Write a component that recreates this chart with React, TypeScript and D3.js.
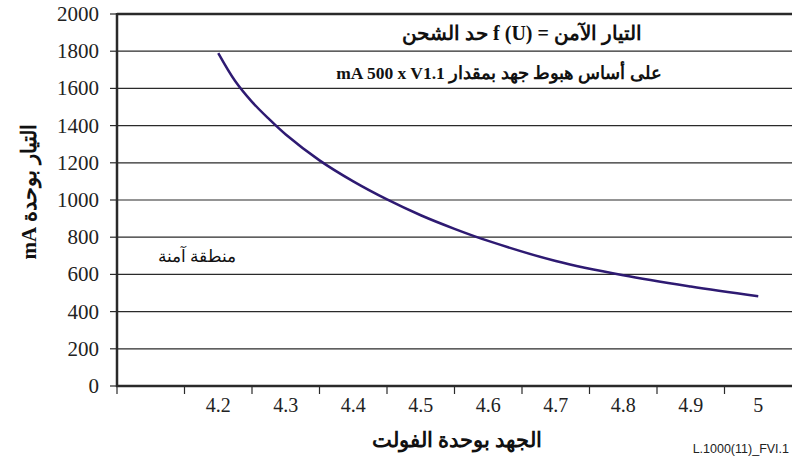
import React from "react";
import * as d3 from "d3";

const voltage = [4.2, 4.225, 4.25, 4.275, 4.3, 4.35, 4.4, 4.45, 4.5, 4.55, 4.6, 4.7, 4.8, 4.9, 5.0];
const current = [1790, 1640, 1528, 1436, 1352, 1213, 1100, 1003, 918, 845, 780, 672, 595, 535, 483];
const xTickValues = [4.2, 4.3, 4.4, 4.5, 4.6, 4.7, 4.8, 4.9, 5.0];
const xTickLabels = ["4.2", "4.3", "4.4", "4.5", "4.6", "4.7", "4.8", "4.9", "5"];
const yTicks = [0, 200, 400, 600, 800, 1000, 1200, 1400, 1600, 1800, 2000];
const titleLine1 = "التيار الآمن = f (U) حد الشحن";
const titleLine2 = "على أساس هبوط جهد بمقدار mA 500 x V1.1";
const yTitle = "التيار بوحدة mA";
const xTitle = "الجهد بوحدة الفولت";
const zoneLabel = "منطقة آمنة";
const figId = "L.1000(11)_FVI.1";

const W = 792, H = 462;
const L = 117, R = 792, T = 14, B = 386;

export default function App() {
  const x = d3.scaleLinear().domain([4.05, 5.05]).range([L, R]);
  const y = d3.scaleLinear().domain([0, 2000]).range([B, T]);
  const pts = voltage.map((v, i) => [v, current[i]] as [number, number]);
  const line = d3.line<[number, number]>().x(d => x(d[0])).y(d => y(d[1])).curve(d3.curveCatmullRom.alpha(0.5));
  const bounds = [xTickValues[0] - 0.15, ...xTickValues.map(v => v - 0.05)];
  const serif = "Liberation Serif, DejaVu Serif, serif";
  const num = { fontFamily: "Liberation Serif, serif" };
  return (
    <svg width={W} height={H} style={{ position: "absolute", left: 0, top: 0, fontFamily: serif }}>
      <rect width={W} height={H} fill="#fff" />
      {yTicks.filter(t => t > 0 && t < 2000).map(t => (
        <line key={t} x1={L} x2={R} y1={y(t)} y2={y(t)} stroke="#2a2a2a" strokeWidth={1.2} />
      ))}
      <line x1={L} x2={R} y1={y(2000)} y2={y(2000)} stroke="#2a2a2a" strokeWidth={2.5} />
      {yTicks.map(t => (
        <g key={t}>
          <line x1={L - 7} x2={L} y1={y(t)} y2={y(t)} stroke="#2a2a2a" strokeWidth={1.2} />
          <text x={99} y={y(t)} dy="0.33em" textAnchor="end" fontSize={21} fill="#222" style={num}>{t}</text>
        </g>
      ))}
      {bounds.map((b, i) => (
        <line key={i} x1={x(b)} x2={x(b)} y1={B} y2={B + 8} stroke="#2a2a2a" strokeWidth={1.2} />
      ))}
      {xTickValues.map((v, i) => (
        <text key={v} x={x(v)} y={412} textAnchor="middle" fontSize={20} fill="#222" style={num}>{xTickLabels[i]}</text>
      ))}
      <line x1={L} x2={L} y1={T - 1} y2={B + 1} stroke="#2a2a2a" strokeWidth={2.5} />
      <line x1={L - 1} x2={R} y1={B} y2={B} stroke="#2a2a2a" strokeWidth={2.5} />
      <path d={line(pts) || ""} fill="none" stroke="#2e1a72" strokeWidth={2.5} />
      <text x={522} y={40} textAnchor="middle" fontSize={20} fontWeight="bold" direction="rtl" fill="#111">{titleLine1}</text>
      <text x={499} y={79} textAnchor="middle" fontSize={17.5} fontWeight="bold" direction="rtl" fill="#111">{titleLine2}</text>
      <text x={197} y={262} textAnchor="middle" fontSize={16.5} direction="rtl" fill="#111">{zoneLabel}</text>
      <text transform="translate(36,192) rotate(-90)" textAnchor="middle" fontSize={21} fontWeight="bold" direction="rtl" fill="#111">{yTitle}</text>
      <text x={457} y={447} textAnchor="middle" fontSize={21} fontWeight="bold" direction="rtl" fill="#111">{xTitle}</text>
      <text x={789} y={453} textAnchor="end" fontSize={12.5} style={{ fontFamily: "Liberation Sans, Arial, sans-serif" }} fill="#222">{figId}</text>
    </svg>
  );
}
